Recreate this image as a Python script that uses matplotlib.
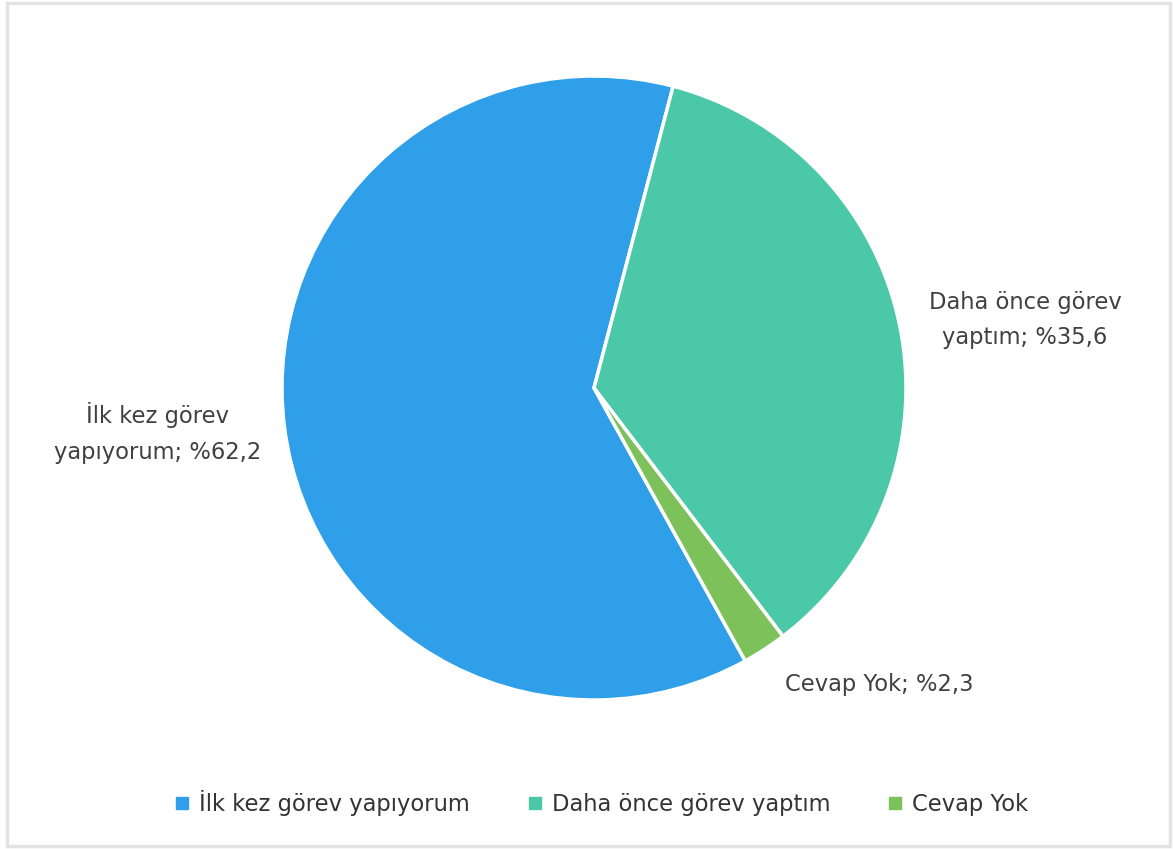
import matplotlib
matplotlib.use("Agg")
import matplotlib.pyplot as plt
from matplotlib.patches import Rectangle
from matplotlib.lines import Line2D

categories = ["İlk kez görev yapıyorum", "Daha önce görev yaptım", "Cevap Yok"]
values = [62.2, 35.6, 2.3]
label_texts = ["İlk kez görev\nyapıyorum; %62,2", "Daha önce görev\nyaptım; %35,6", "Cevap Yok; %2,3"]
colors = ["#2E9FE8", "#4BC8A8", "#7CC159"]

W, H = 1173, 849
fig = plt.figure(figsize=(W / 100, H / 100), dpi=100)
ax = fig.add_axes([0, 0, 1, 1])

cx, cy, r = 594, H - 388, 312
wedges, _ = ax.pie(values, colors=colors, startangle=-61, counterclock=False,
                   center=(cx, cy), radius=r, frame=True,
                   wedgeprops=dict(edgecolor="white", linewidth=2.5))
ax.set_xlim(0, W)
ax.set_ylim(0, H)
ax.axis("off")

txt_color = "#404040"
label_pos = [(158, H - 433), (1025, H - 320), (879, H - 684)]
for (x, y), t in zip(label_pos, label_texts):
    ax.text(x, y, t, ha="center", va="center", fontsize=16.3, color=txt_color,
            linespacing=1.7)

handles = [Line2D([0], [0], marker="s", linestyle="none", markersize=8,
                  markerfacecolor=c, markeredgecolor=c) for c in colors]
ax.legend(handles, categories, loc="center", bbox_to_anchor=(600 / W, 1 - 803 / H),
          ncol=3, frameon=False, fontsize=16.3, handletextpad=0.3,
          columnspacing=2.4, labelcolor="#333333", handlelength=0.9)

ax.add_patch(Rectangle((7, 3), W - 10, H - 6, fill=False, edgecolor="#e3e3e3",
                       linewidth=2.5))

fig.savefig("out.png", dpi=100)
